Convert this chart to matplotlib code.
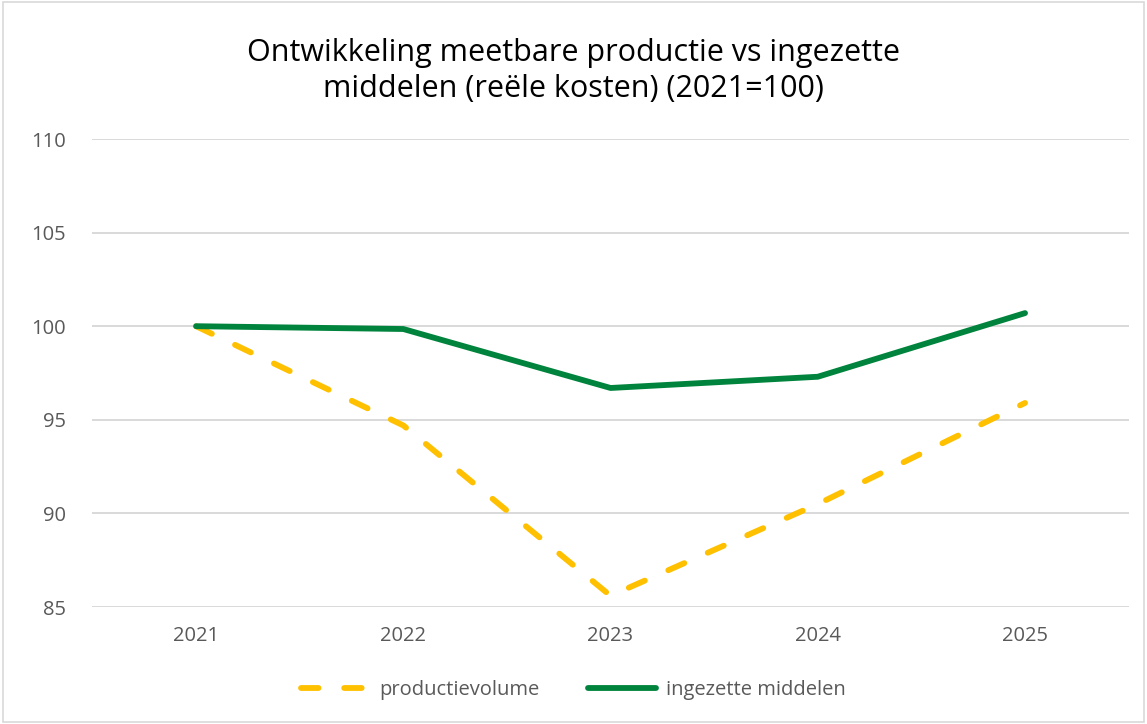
import matplotlib.pyplot as plt
from matplotlib.patches import Rectangle

plt.rcParams['font.family'] = ['Open Sans', 'DejaVu Sans']

years = ['2021', '2022', '2023', '2024', '2025']
productievolume = [100, 94.7, 85.6, 90.5, 95.9]
ingezette_middelen = [100, 99.85, 96.7, 97.3, 100.7]

fig = plt.figure(figsize=(11.47, 7.24), dpi=100)
ax = fig.add_axes([0.0806, 0.1616, 0.9034, 0.6464])

x = range(len(years))
ax.plot(x, productievolume, color='#FFC000', lw=4.2, dashes=(3.0, 4.4),
        dash_capstyle='round', label='productievolume', zorder=3)
ax.plot(x, ingezette_middelen, color='#00843D', lw=4.2,
        solid_capstyle='round', label='ingezette middelen', zorder=4)

ax.set_xlim(-0.5, len(years) - 0.5)
ax.set_ylim(85, 110)
ax.set_yticks([85, 90, 95, 100, 105, 110])
ax.set_xticks(list(x))
ax.set_xticklabels(years)
ax.grid(axis='y', color='#D9D9D9', lw=1.4)
ax.set_axisbelow(True)
for s in ax.spines.values():
    s.set_visible(False)
ax.tick_params(axis='both', length=0, labelsize=14.5, labelcolor='#595959')
ax.tick_params(axis='y', pad=19)
ax.tick_params(axis='x', pad=14)

fig.text(0.5, 0.902, 'Ontwikkeling meetbare productie vs ingezette\nmiddelen (reële kosten) (2021=100)',
         ha='center', va='center', fontsize=22, color='#000000', linespacing=1.3)

fig.legend(loc='center', bbox_to_anchor=(0.5, 0.047), ncol=2, frameon=False,
           fontsize=14.5, handlelength=3.4, handletextpad=0.5, columnspacing=2.4,
           labelcolor='#595959')

fig.patches.append(Rectangle((0.003, 0.003), 0.994, 0.994, transform=fig.transFigure,
                             fill=False, edgecolor='#D9D9D9', lw=1.2))

fig.savefig('out.png', dpi=100)
